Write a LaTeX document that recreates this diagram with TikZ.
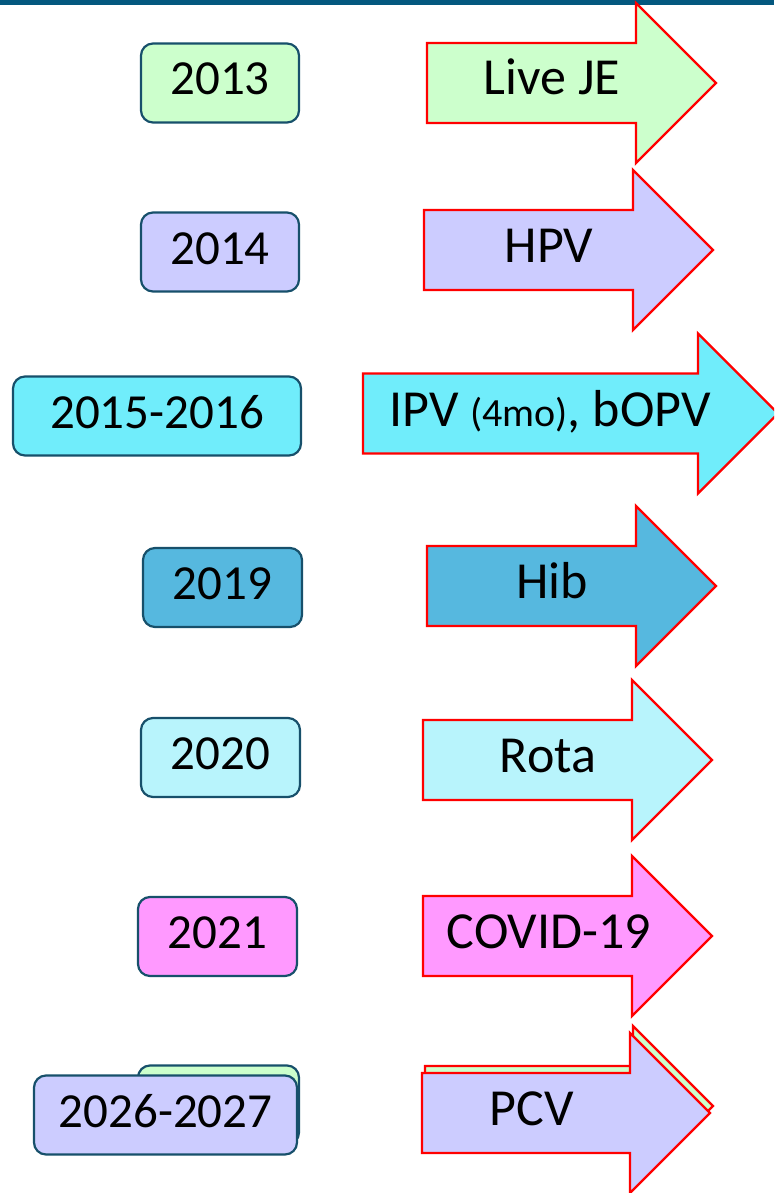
\documentclass[tikz,border=0pt]{standalone}
\usepackage{fontspec}
\setmainfont{Carlito}
\definecolor{band}{HTML}{04587F}
\definecolor{boxline}{HTML}{17506B}
\definecolor{cgreen}{HTML}{CCFFCC}
\definecolor{clav}{HTML}{CCCCFF}
\definecolor{ccyan}{HTML}{70EDFB}
\definecolor{chib}{HTML}{56B8DF}
\definecolor{crota}{HTML}{B8F4FC}
\definecolor{cpink}{HTML}{FF99FF}
\definecolor{ared}{HTML}{FF0000}
\tikzset{
  yearbox/.style={draw=boxline, line width=2.2pt, rounded corners=12pt,
    minimum height=79pt, inner sep=0pt, text height=34pt, text depth=10pt,
    font=\fontsize{49}{58}\selectfont},
  arrowshape/.style={draw=ared, line width=2.4pt, line join=miter},
  arrowtext/.style={anchor=base, inner sep=0pt, font=\fontsize{52}{62}\selectfont},
}
% #1 = tail x, #2 = head start x, #3 = centre y, #4 = fill
\newcommand\vaccarrow[4]{%
  \path[arrowshape, fill=#4] (#1,{#3-40}) -- (#2,{#3-40}) -- (#2,{#3-80})
    -- ({#2+80},#3) -- (#2,{#3+80}) -- (#2,{#3+40}) -- (#1,{#3+40}) -- cycle;}
\begin{document}
\begin{tikzpicture}[x=1pt,y=-1pt]
\clip (0,0) rectangle (774,1193);
\fill[white] (0,0) rectangle (774,1193);
\fill[band] (0,0) rectangle (774,5);

% year boxes
\node[yearbox, fill=cgreen, minimum width=158pt] (b2013) at (220,83) {2013};
\node[yearbox, fill=clav, minimum width=158pt] (b2014) at (220,252) {2014};
\node[yearbox, fill=ccyan, minimum width=288pt] (b2015) at (157,416) {2015-2016};
\node[yearbox, fill=chib, minimum width=159pt] (b2019) at (222.5,587.5) {2019};
\node[yearbox, fill=crota, minimum width=159pt] (b2020) at (220.5,757.5) {2020};
\node[yearbox, fill=cpink, minimum width=159pt] (b2021) at (217.5,936.5) {2021};
\node[yearbox, fill=cgreen, minimum width=161pt] (bhidden) at (218.5,1105) {};
\node[yearbox, fill=clav, minimum width=263pt, text depth=8pt, text height=32pt] (b2026) at (165.5,1115) {2026-2027};

% arrows
\vaccarrow{427}{636}{83}{cgreen}
\node[arrowtext] (aje) at (552,95) {Live JE};
\vaccarrow{424}{633}{250}{clav}
\node[arrowtext] (ahpv) at (549,262) {HPV};
\vaccarrow{363}{698}{413.5}{ccyan}
\node[arrowtext] (aipv) at (550,426) {IPV {\fontsize{40}{48}\selectfont(4mo)}, bOPV};
\vaccarrow{427}{636}{586}{chib}
\node[arrowtext] (ahib) at (552,598) {Hib};
\vaccarrow{423}{632}{760}{crota}
\node[arrowtext] (arota) at (548,772) {Rota};
\vaccarrow{423}{632}{936}{cpink}
\node[arrowtext] (acovid) at (549,948) {COVID-19};
\vaccarrow{425}{633}{1106}{cgreen}
\vaccarrow{422}{630}{1113}{clav}
\node[arrowtext] (apcv) at (532,1125) {PCV};
\end{tikzpicture}
\end{document}
